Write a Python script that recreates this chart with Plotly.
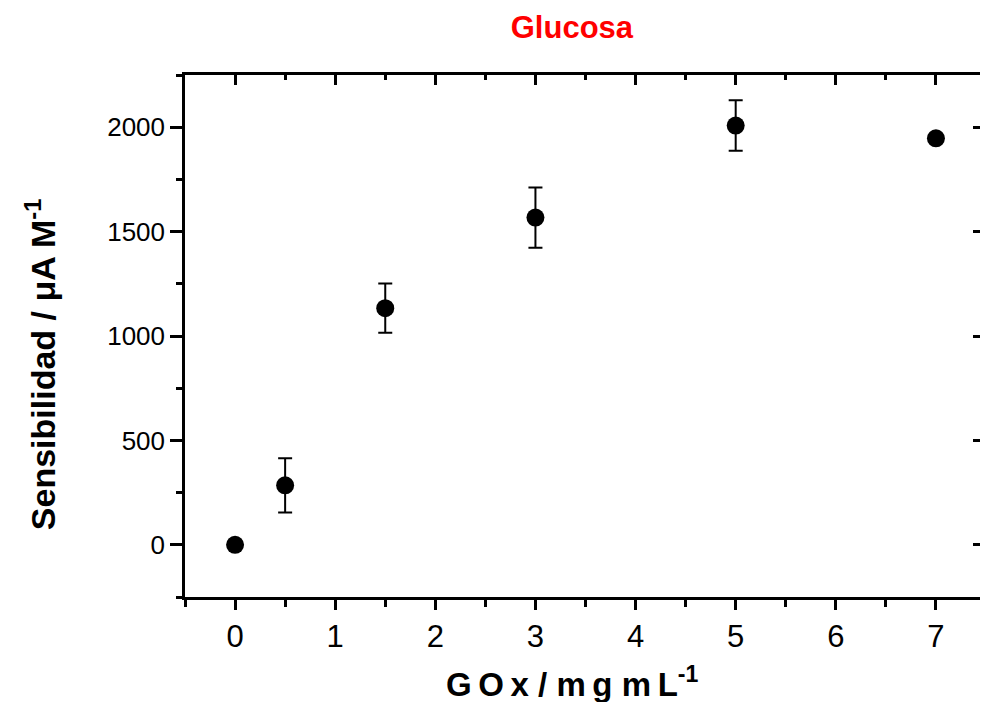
import plotly.graph_objects as go

# GOx loading (mg/mL) vs. glucose sensitivity (uA/M) with standard deviations
gox = [0, 0.5, 1.5, 3, 5, 7]
sensitivity = [0, 285, 1133, 1567, 2008, 1947]
error = [0, 130, 118, 144, 121, 0]

font_main = "Liberation Sans, Arial, sans-serif"
axis_col = "black"
thin = "\u2009"

fig = go.Figure()

fig.add_trace(go.Scatter(
    x=gox, y=sensitivity,
    mode="markers",
    marker=dict(symbol="circle", size=18, color="black"),
    error_y=dict(type="data", array=error, visible=True,
                 color="black", thickness=2, width=7),
    showlegend=False,
    cliponaxis=False,
))

# invisible trace so the top/right frame axes are rendered
fig.add_trace(go.Scatter(x=[gox[0]], y=[sensitivity[0]], xaxis="x2", yaxis="y2",
                         mode="markers", marker=dict(opacity=0), showlegend=False,
                         hoverinfo="skip"))

x_range = [-0.5, 7.44]
y_range = [-250, 2250]

x_title = f"<b>G{thin}O{thin}x / m{thin}g m{thin}L<sup>-1</sup></b>"
y_title = "<b>Sensibilidad / μA M<sup>-1</sup></b>"

fig.update_layout(
    width=981, height=702,
    margin=dict(l=185, r=1, t=75, b=105),
    paper_bgcolor="white", plot_bgcolor="white",
    title=dict(text="<b>Glucosa</b>", x=0.583, xanchor="center", y=0.9615, yanchor="middle",
               font=dict(family=font_main, size=31, color="red")),
    xaxis=dict(
        range=x_range, tickmode="linear", tick0=0, dtick=1,
        showline=True, linecolor=axis_col, linewidth=2.5,
        ticks="outside", ticklen=10, tickwidth=2.5, tickcolor=axis_col,
        minor=dict(tick0=-0.5, dtick=1, ticks="outside", ticklen=7, tickwidth=2.5, tickcolor=axis_col),
        showgrid=False, zeroline=False,
        tickfont=dict(family=font_main, size=31, color="black"),
    ),
    yaxis=dict(
        range=y_range, tickmode="linear", tick0=0, dtick=500,
        showline=True, linecolor=axis_col, linewidth=2.5,
        ticks="outside", ticklen=12, tickwidth=2.5, tickcolor=axis_col,
        minor=dict(tick0=250, dtick=500, ticks="outside", ticklen=6, tickwidth=2.5, tickcolor=axis_col),
        showgrid=False, zeroline=False,
        tickfont=dict(family=font_main, size=26, color="black"),
    ),
    xaxis2=dict(
        overlaying="x", side="top", matches="x", range=x_range,
        tickmode="linear", tick0=0, dtick=1,
        showline=True, linecolor=axis_col, linewidth=2.5,
        ticks="inside", ticklen=10, tickwidth=2.5, tickcolor=axis_col,
        minor=dict(tick0=-0.5, dtick=1, ticks="inside", ticklen=5, tickwidth=2.5, tickcolor=axis_col),
        showticklabels=False, showgrid=False, zeroline=False,
    ),
    yaxis2=dict(
        overlaying="y", side="right", matches="y", range=y_range,
        tickmode="linear", tick0=0, dtick=500,
        showline=False,
        ticks="inside", ticklen=7, tickwidth=2.5, tickcolor=axis_col,
        showticklabels=False, showgrid=False, zeroline=False,
    ),
    annotations=[
        dict(text=x_title, xref="paper", yref="paper", x=0.487, y=-0.163,
             xanchor="center", yanchor="middle", showarrow=False,
             font=dict(family=font_main, size=33, color="black")),
        dict(text=y_title, xref="paper", yref="paper", x=-0.1824, y=0.446,
             xanchor="center", yanchor="middle", showarrow=False, textangle=-90,
             font=dict(family=font_main, size=34, color="black")),
    ],
)

fig.write_html("out.html")
